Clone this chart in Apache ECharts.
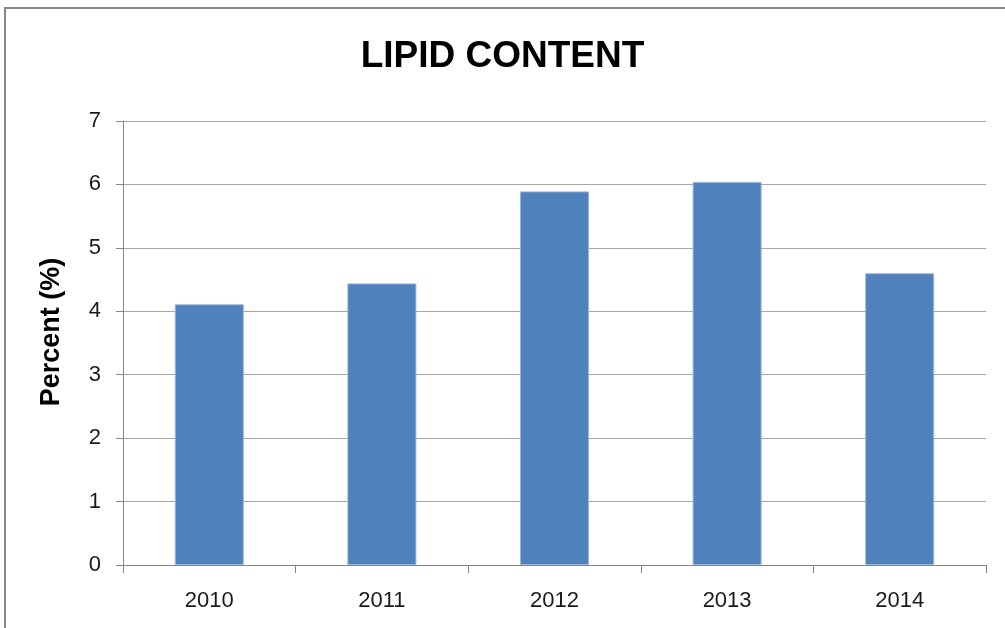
<!DOCTYPE html>
<html>
<head>
<meta charset="utf-8">
<script src="https://cdn.jsdelivr.net/npm/echarts@6/dist/echarts.min.js"></script>
<style>
  html, body { margin: 0; padding: 0; background: #ffffff; }
  #chart { width: 1005px; height: 628px; }
</style>
</head>
<body>
<div id="chart"></div>
<script>
// Lipid content by year
const years = ['2010', '2011', '2012', '2013', '2014'];
const lipidPercent = [4.11, 4.44, 5.89, 6.04, 4.6];
const yTicks = { min: 0, max: 7, interval: 1 };

const chart = echarts.init(document.getElementById('chart'), null, { renderer: 'canvas' });
const textColor = '#1a1a1a';
const fontFamily = '"Liberation Sans", Arial, sans-serif';

chart.setOption({
  backgroundColor: '#ffffff',
  animation: false,
  title: {
    text: 'LIPID CONTENT',
    left: 'center',
    top: 38,
    padding: [0, 0, 0, 10],
    textStyle: { fontFamily: fontFamily, fontWeight: 'bold', fontSize: 37, color: '#000000' }
  },
  graphic: [{
    type: 'rect',
    silent: true,
    shape: { x: 5, y: 8, width: 1010, height: 640 },
    style: { fill: 'none', stroke: '#878787', lineWidth: 2 }
  }],
  grid: { left: 123, right: 19, top: 121, bottom: 63 },
  xAxis: {
    type: 'category',
    data: years,
    boundaryGap: true,
    axisLine: { show: true, lineStyle: { color: '#868686', width: 1 } },
    axisTick: { show: true, length: 8, alignWithLabel: false, lineStyle: { color: '#868686' } },
    axisLabel: { margin: 25, fontFamily: fontFamily, fontSize: 22, color: textColor },
    splitLine: { show: false }
  },
  yAxis: {
    type: 'value',
    min: yTicks.min,
    max: yTicks.max,
    interval: yTicks.interval,
    name: 'Percent (%)',
    nameLocation: 'middle',
    nameGap: 58,
    nameRotate: 90,
    nameTextStyle: { fontFamily: fontFamily, fontWeight: 'bold', fontSize: 27, color: '#000000', padding: [0, 0, 0, 22] },
    axisLine: { show: true, lineStyle: { color: '#868686', width: 1 } },
    axisTick: { show: true, length: 7, lineStyle: { color: '#868686' } },
    axisLabel: { margin: 22, fontFamily: fontFamily, fontSize: 22, color: textColor },
    splitLine: { show: true, lineStyle: { color: '#a6a6a6', width: 1 } }
  },
  series: [{
    type: 'bar',
    data: lipidPercent,
    barWidth: '40%',
    itemStyle: { color: '#4f81bd', borderColor: '#9bb6dc', borderWidth: 1 }
  }]
});
</script>
</body>
</html>
